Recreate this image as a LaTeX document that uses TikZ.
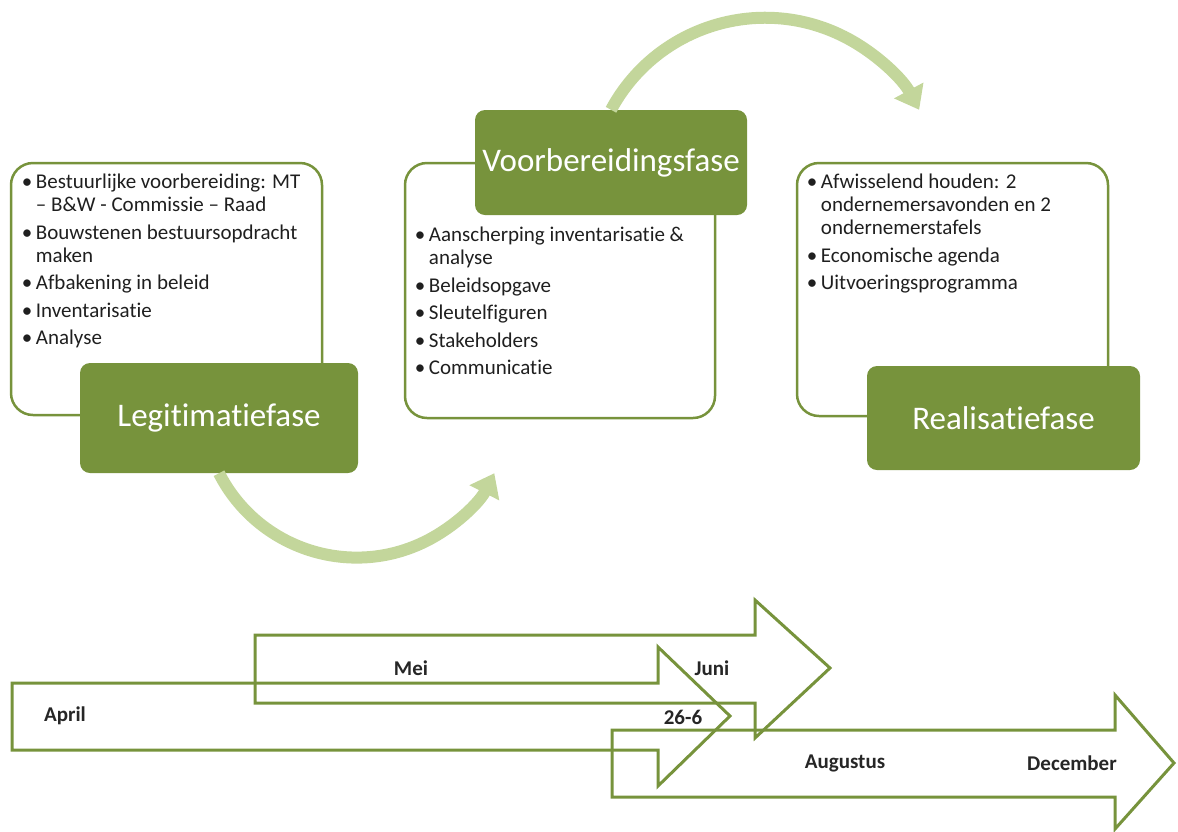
\documentclass[tikz,border=0pt]{standalone}
\usepackage{fontspec}
\setmainfont{Carlito}[Ligatures={TeX,NoCommon}]
\usetikzlibrary{arrows.meta,positioning}

\definecolor{olijf}{HTML}{77933C}
\definecolor{lichtgroen}{HTML}{C3D69B}

\newcommand{\punt}[1]{\makebox[14pt][l]{\textbullet}#1}
\newcommand{\verder}[1]{\hspace*{14pt}#1}

\tikzset{
  kader/.style={draw=olijf, line width=2.5pt, rounded corners=22pt, inner sep=0pt},
  fase/.style={fill=olijf, text=white, rounded corners=10pt, inner sep=0pt, font=\fontsize{33}{36}\selectfont},
  punten/.style={align=left, inner sep=0pt, font=\fontsize{21}{23}\selectfont, text=black!88},
  boog/.style={draw=lichtgroen, line width=12pt, -{Triangle[length=22pt,width=32pt]}},
  tijdpijl/.style={draw=olijf, line width=3pt, line join=miter},
  maand/.style={font=\fontsize{21}{24}\selectfont\bfseries, text=black!85}
}

\begin{document}
\begin{tikzpicture}[x=1pt,y=-1pt]
\useasboundingbox (0,0) rectangle (1178,831);

% kaders met punten
\node[kader, minimum width=311pt, minimum height=252pt] (legkader) at (166.5,289) {};
\node[kader, minimum width=310pt, minimum height=255pt] (voorkader) at (560,290.5) {};
\node[kader, minimum width=311pt, minimum height=253pt] (realkader) at (952.5,289.5) {};

\node[punten, below right=12pt and 12pt of legkader.north west] (legpunten) {%
  \punt{Bestuurlijke voorbereiding: MT}\\
  \verder{– B\&W - Commissie – Raad}\\[4.5pt]
  \punt{Bouwstenen bestuursopdracht}\\
  \verder{maken}\\[4.5pt]
  \punt{Afbakening in beleid}\\[4.5pt]
  \punt{Inventarisatie}\\[4.5pt]
  \punt{Analyse}};
\node[punten, below right=65pt and 11pt of voorkader.north west] (voorpunten) {%
  \punt{Aanscherping inventarisatie \&}\\
  \verder{analyse}\\[4.5pt]
  \punt{Beleidsopgave}\\[4.5pt]
  \punt{Sleutelfiguren}\\[4.5pt]
  \punt{Stakeholders}\\[4.5pt]
  \punt{Communicatie}};
\node[punten, below right=12pt and 11pt of realkader.north west] (realpunten) {%
  \punt{Afwisselend houden: 2}\\
  \verder{ondernemersavonden en 2}\\
  \verder{ondernemerstafels}\\[4.5pt]
  \punt{Economische agenda}\\[4.5pt]
  \punt{Uitvoeringsprogramma}};

% fasen
\node[fase, minimum width=278pt, minimum height=110pt] (legfase) at (219,418) {Legitimatiefase};
\node[fase, minimum width=272pt, minimum height=105pt] (voorfase) at (611,162.5) {Voorbereidingsfase};
\node[fase, minimum width=273pt, minimum height=104pt] (realfase) at (1003.5,418) {Realisatiefase};

% bogen
\draw[boog] (legfase.south) arc[start angle=153, end angle=27, radius=154.5];
\draw[boog] (voorfase.north) arc[start angle=208.3, end angle=331.7, radius=175];

% tijdlijn
\draw[tijdpijl] (12,683) -- (658,683) -- (658,647) -- (730,716) -- (658,786) -- (658,750) -- (12,750) -- cycle; % april
\draw[tijdpijl] (255,635) -- (755,635) -- (755,600) -- (830,668) -- (755,738) -- (755,703) -- (255,703) -- cycle; % mei
\draw[tijdpijl] (612,730) -- (1115,730) -- (1115,695) -- (1174,763) -- (1115,829) -- (1115,797) -- (612,797) -- cycle; % augustus

\node[maand] (mei) at (411,668) {Mei};
\node[maand] (juni) at (712,668) {Juni};
\node[maand] (april) at (65,716) {April};
\node[maand] (datum) at (683,717) {26-6};
\node[maand] (augustus) at (845,763) {Augustus};
\node[maand] (december) at (1072,763) {December};

\end{tikzpicture}
\end{document}
